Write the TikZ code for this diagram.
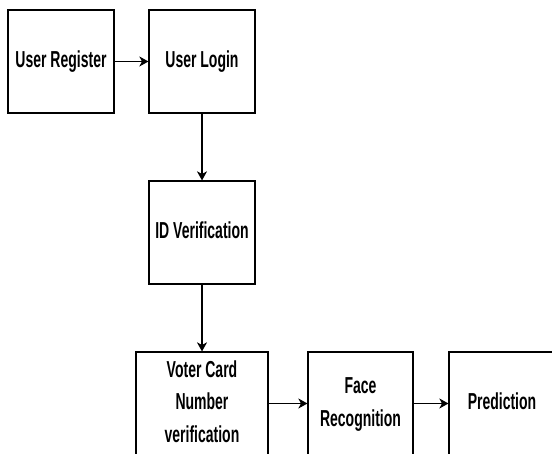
\documentclass[tikz,border=0pt]{standalone}
\usepackage{fontspec}
\setmainfont{Liberation Sans}
\usepackage{graphicx}
\usetikzlibrary{positioning, arrows.meta}

\newcommand{\tall}[1]{\scalebox{1}[1.65]{\fontsize{14pt}{19.5pt}\selectfont\bfseries\begin{tabular}{@{}c@{}}#1\end{tabular}}}

\begin{document}
\begin{tikzpicture}[x=1pt, y=-1pt,
    stage/.style={draw, line width=1.2pt, minimum width=106pt, minimum height=103pt, inner sep=0pt},
    flow/.style={line width=1.1pt, -{Stealth[length=9pt, width=10pt, inset=2.5pt]}}]
                \useasboundingbox (0, 0) rectangle (552, 454);
                \clip (0, 0) rectangle (552, 454);
                % Nodes
                \node[stage] (reg) at (61, 61.5) {\tall{User Register}};
                \node[stage] (login) at (202, 61.5) {\tall{User Login}};
                \node[stage] (idv) at (202, 232.5) {\tall{ID Verification}};
                \node[stage, minimum width=132pt] (voter) at (202, 403.5) {\tall{Voter Card\\Number\\verification}};
                \node[stage, minimum width=105pt] (face) at (360.5, 403.5) {\tall{Face\\Recognition}};
                \node[stage] (pred) at (502, 403.5) {\tall{Prediction}};

                % Edges
                \draw[flow] (reg) -- (login);
                \draw[flow] (login) -- (idv);
                \draw[flow] (idv) -- (voter);
                \draw[flow] (voter) -- (face);
                \draw[flow] (face) -- (pred);
            \end{tikzpicture}
\end{document}
